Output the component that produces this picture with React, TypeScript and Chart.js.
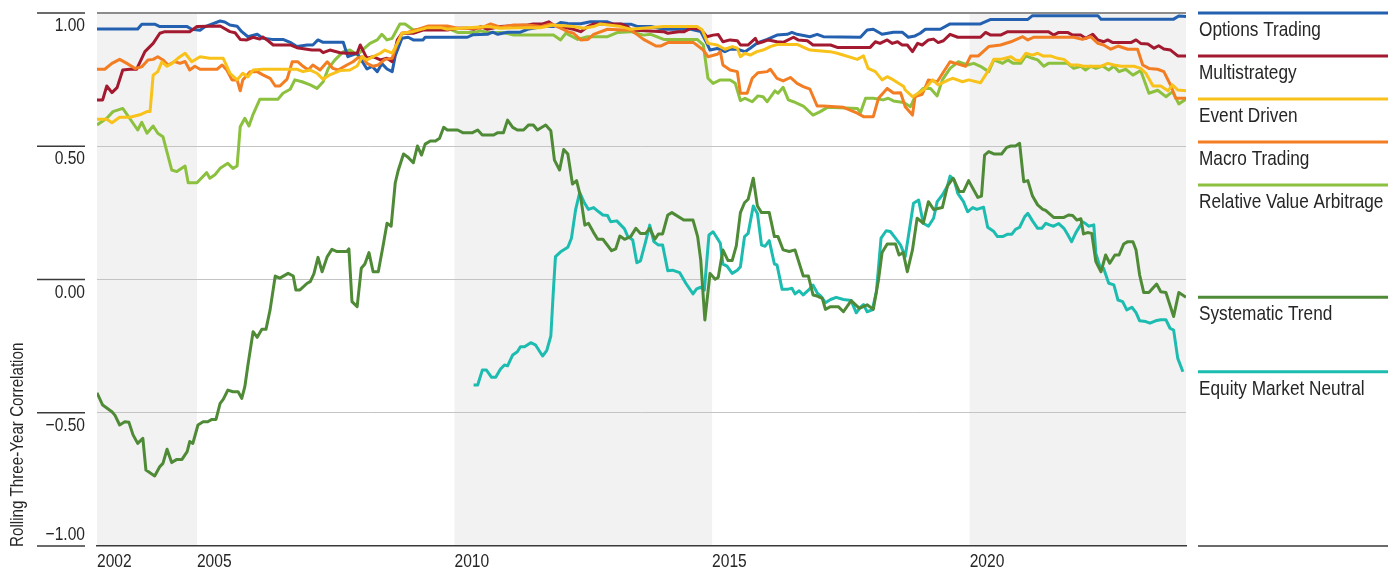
import React, { useEffect, useRef } from "react";
import { Chart, registerables } from "chart.js";

Chart.register(...registerables);

const FONT = "'Liberation Sans', Arimo, Arial, sans-serif";
const CONDENSE = 0.82;

// ---------- data (decimal year, rolling three-year correlation) ----------
const optionsTrading: [number, number][] = [
  [2003.06, 0.94], [2003.85, 0.94], [2003.93, 0.958], [2004.18, 0.958], [2004.28, 0.949], [2004.81, 0.949],
  [2004.9, 0.939], [2005.06, 0.935], [2005.16, 0.949], [2005.45, 0.97], [2005.54, 0.966], [2005.64, 0.955],
  [2005.78, 0.95], [2005.87, 0.93], [2005.99, 0.911], [2006.17, 0.92], [2006.28, 0.905], [2006.46, 0.901],
  [2006.67, 0.901], [2006.81, 0.89], [2006.94, 0.874], [2007.14, 0.88], [2007.25, 0.88], [2007.35, 0.899],
  [2007.45, 0.89], [2007.84, 0.89], [2007.93, 0.836], [2008.11, 0.849], [2008.17, 0.83], [2008.3, 0.79],
  [2008.4, 0.8], [2008.5, 0.78], [2008.59, 0.81], [2008.69, 0.79], [2008.79, 0.78], [2008.85, 0.84],
  [2008.98, 0.905], [2009.1, 0.909], [2009.2, 0.899], [2009.39, 0.899], [2009.43, 0.909], [2010.25, 0.909],
  [2010.35, 0.918], [2010.64, 0.92], [2010.74, 0.928], [2010.84, 0.92], [2011.03, 0.928], [2011.28, 0.928],
  [2011.42, 0.939], [2011.71, 0.949], [2011.92, 0.949], [2012.06, 0.964], [2012.2, 0.961], [2012.45, 0.96],
  [2012.64, 0.967], [2012.97, 0.967], [2013.09, 0.958], [2013.42, 0.958], [2013.56, 0.949], [2013.81, 0.949],
  [2014.06, 0.939], [2014.59, 0.939], [2014.78, 0.93], [2014.9, 0.886], [2014.96, 0.861], [2015.1, 0.867],
  [2015.25, 0.855], [2015.35, 0.864], [2015.49, 0.864], [2015.64, 0.855], [2015.74, 0.868], [2015.89, 0.889],
  [2016.07, 0.901], [2016.26, 0.917], [2016.46, 0.92], [2016.55, 0.927], [2016.65, 0.92], [2016.9, 0.911],
  [2017.04, 0.92], [2017.16, 0.911], [2017.88, 0.909], [2018.01, 0.936], [2018.13, 0.939], [2018.3, 0.92],
  [2018.52, 0.928], [2018.69, 0.928], [2018.81, 0.909], [2018.94, 0.914], [2019.04, 0.924], [2019.14, 0.939],
  [2019.43, 0.939], [2019.62, 0.959], [2020.21, 0.959], [2020.41, 0.976], [2021.13, 0.976], [2021.22, 0.99],
  [2022.49, 0.99], [2022.55, 0.977], [2023.96, 0.977], [2024.06, 0.989], [2024.2, 0.987],
];

const multistrategy: [number, number][] = [
  [2003.06, 0.674], [2003.17, 0.674], [2003.25, 0.726], [2003.35, 0.701], [2003.45, 0.72], [2003.56, 0.786],
  [2003.7, 0.789], [2003.83, 0.789], [2003.99, 0.855], [2004.15, 0.886], [2004.28, 0.924], [2004.38, 0.93],
  [2004.86, 0.93], [2005.0, 0.949], [2005.45, 0.951], [2005.64, 0.93], [2005.74, 0.926], [2005.84, 0.901],
  [2005.97, 0.899], [2006.09, 0.909], [2006.22, 0.902], [2006.28, 0.91], [2006.36, 0.899], [2006.48, 0.88],
  [2006.81, 0.88], [2006.94, 0.87], [2007.23, 0.861], [2007.39, 0.861], [2007.45, 0.851], [2007.58, 0.861],
  [2007.78, 0.851], [2007.91, 0.849], [2008.11, 0.849], [2008.17, 0.88], [2008.3, 0.83], [2008.42, 0.836],
  [2008.56, 0.824], [2008.69, 0.83], [2008.79, 0.817], [2008.89, 0.899], [2008.98, 0.924], [2009.2, 0.924],
  [2009.39, 0.936], [2009.86, 0.936], [2010.06, 0.943], [2010.25, 0.943], [2010.37, 0.939], [2010.51, 0.949],
  [2010.64, 0.939], [2010.89, 0.949], [2011.42, 0.955], [2011.53, 0.959], [2011.71, 0.959], [2011.83, 0.967],
  [2011.92, 0.955], [2012.06, 0.949], [2012.31, 0.939], [2012.45, 0.93], [2012.59, 0.949], [2012.7, 0.959],
  [2013.23, 0.959], [2013.36, 0.949], [2013.42, 0.936], [2014.06, 0.93], [2014.14, 0.924], [2014.35, 0.93],
  [2014.46, 0.93], [2014.59, 0.943], [2014.78, 0.939], [2014.9, 0.911], [2015.02, 0.917], [2015.12, 0.919],
  [2015.21, 0.892], [2015.35, 0.899], [2015.49, 0.896], [2015.55, 0.88], [2015.7, 0.88], [2015.84, 0.905],
  [2015.89, 0.886], [2015.99, 0.892], [2016.09, 0.899], [2016.26, 0.892], [2016.38, 0.89], [2016.58, 0.909],
  [2016.67, 0.899], [2016.85, 0.896], [2016.96, 0.88], [2017.3, 0.88], [2017.43, 0.871], [2018.07, 0.871],
  [2018.17, 0.892], [2018.26, 0.886], [2018.4, 0.899], [2018.5, 0.886], [2018.6, 0.892], [2018.69, 0.88],
  [2018.79, 0.88], [2018.89, 0.855], [2018.99, 0.886], [2019.08, 0.88], [2019.2, 0.899], [2019.3, 0.902],
  [2019.39, 0.889], [2019.49, 0.896], [2019.62, 0.92], [2019.77, 0.909], [2020.21, 0.909], [2020.31, 0.927],
  [2020.41, 0.917], [2020.6, 0.917], [2020.74, 0.93], [2021.53, 0.93], [2021.63, 0.917], [2021.73, 0.927],
  [2021.9, 0.927], [2022.0, 0.917], [2022.16, 0.917], [2022.25, 0.905], [2022.39, 0.92], [2022.49, 0.899],
  [2022.6, 0.892], [2022.68, 0.899], [2022.78, 0.889], [2023.13, 0.889], [2023.23, 0.899], [2023.32, 0.886],
  [2023.46, 0.884], [2023.58, 0.868], [2023.67, 0.877], [2023.77, 0.865], [2023.9, 0.861], [2024.04, 0.839],
  [2024.2, 0.839],
];

const eventDriven: [number, number][] = [
  [2003.06, 0.601], [2003.25, 0.601], [2003.35, 0.588], [2003.5, 0.609], [2003.7, 0.609], [2003.89, 0.618],
  [2004.03, 0.63], [2004.09, 0.63], [2004.15, 0.767], [2004.24, 0.78], [2004.32, 0.817], [2004.42, 0.8],
  [2004.51, 0.81], [2004.63, 0.83], [2004.77, 0.849], [2004.9, 0.817], [2005.06, 0.836], [2005.25, 0.83],
  [2005.51, 0.83], [2005.64, 0.774], [2005.78, 0.749], [2005.89, 0.774], [2005.99, 0.76], [2006.09, 0.786],
  [2006.28, 0.789], [2006.94, 0.789], [2007.06, 0.78], [2007.2, 0.786], [2007.33, 0.774], [2007.45, 0.751],
  [2007.58, 0.768], [2007.78, 0.784], [2007.97, 0.786], [2008.11, 0.801], [2008.21, 0.836], [2008.3, 0.824],
  [2008.42, 0.836], [2008.56, 0.849], [2008.65, 0.861], [2008.79, 0.849], [2008.89, 0.886], [2008.98, 0.924],
  [2009.2, 0.93], [2009.48, 0.945], [2009.73, 0.945], [2009.86, 0.939], [2010.12, 0.943], [2010.64, 0.949],
  [2010.89, 0.943], [2011.22, 0.945], [2011.67, 0.945], [2011.92, 0.955], [2012.31, 0.949], [2012.51, 0.943],
  [2012.7, 0.949], [2012.83, 0.959], [2013.23, 0.949], [2013.42, 0.939], [2014.06, 0.949], [2014.71, 0.949],
  [2014.81, 0.936], [2014.92, 0.886], [2015.1, 0.88], [2015.25, 0.864], [2015.39, 0.874], [2015.49, 0.868],
  [2015.55, 0.836], [2015.64, 0.849], [2015.74, 0.842], [2015.87, 0.855], [2015.99, 0.861], [2016.13, 0.874],
  [2016.26, 0.882], [2016.65, 0.882], [2016.9, 0.861], [2017.29, 0.855], [2017.43, 0.849], [2017.82, 0.826],
  [2017.94, 0.839], [2018.03, 0.792], [2018.17, 0.78], [2018.3, 0.749], [2018.4, 0.761], [2018.52, 0.749],
  [2018.72, 0.724], [2018.75, 0.711], [2018.89, 0.686], [2019.01, 0.7], [2019.14, 0.717], [2019.28, 0.749],
  [2019.39, 0.73], [2019.59, 0.749], [2019.68, 0.755], [2019.86, 0.742], [2019.98, 0.749], [2020.21, 0.738],
  [2020.35, 0.78], [2020.47, 0.826], [2020.6, 0.826], [2020.8, 0.836], [2020.89, 0.824], [2020.99, 0.821],
  [2021.09, 0.849], [2021.22, 0.842], [2021.32, 0.849], [2021.42, 0.839], [2021.57, 0.839], [2021.71, 0.83],
  [2021.83, 0.826], [2021.96, 0.805], [2022.1, 0.805], [2022.21, 0.8], [2022.55, 0.8], [2022.68, 0.811],
  [2022.8, 0.805], [2022.94, 0.8], [2023.19, 0.8], [2023.32, 0.792], [2023.42, 0.774], [2023.56, 0.726],
  [2023.71, 0.726], [2023.85, 0.708], [2023.94, 0.73], [2024.04, 0.711], [2024.2, 0.708],
];

const macroTrading: [number, number][] = [
  [2003.06, 0.789], [2003.21, 0.789], [2003.35, 0.811], [2003.5, 0.826], [2003.64, 0.811], [2003.8, 0.792],
  [2003.93, 0.798], [2004.05, 0.824], [2004.15, 0.826], [2004.24, 0.836], [2004.34, 0.824], [2004.44, 0.805],
  [2004.57, 0.818], [2004.67, 0.811], [2004.77, 0.818], [2004.86, 0.786], [2004.96, 0.8], [2005.06, 0.789],
  [2005.39, 0.789], [2005.49, 0.805], [2005.58, 0.786], [2005.68, 0.749], [2005.78, 0.749], [2005.84, 0.708],
  [2005.89, 0.749], [2006.03, 0.78], [2006.17, 0.78], [2006.28, 0.768], [2006.42, 0.755], [2006.52, 0.726],
  [2006.61, 0.726], [2006.75, 0.752], [2006.85, 0.817], [2006.96, 0.817], [2007.06, 0.8], [2007.16, 0.786],
  [2007.25, 0.805], [2007.39, 0.786], [2007.53, 0.817], [2007.64, 0.792], [2007.74, 0.786], [2007.91, 0.805],
  [2008.03, 0.817], [2008.11, 0.83], [2008.21, 0.836], [2008.3, 0.811], [2008.42, 0.8], [2008.52, 0.805],
  [2008.65, 0.826], [2008.79, 0.83], [2008.89, 0.886], [2008.98, 0.924], [2009.1, 0.928], [2009.24, 0.936],
  [2009.48, 0.951], [2009.86, 0.951], [2010.06, 0.943], [2010.51, 0.943], [2010.7, 0.959], [2010.89, 0.947],
  [2011.15, 0.955], [2011.42, 0.955], [2011.67, 0.949], [2011.87, 0.959], [2012.06, 0.943], [2012.2, 0.93],
  [2012.31, 0.924], [2012.45, 0.899], [2012.59, 0.901], [2012.7, 0.92], [2012.97, 0.939], [2013.28, 0.936],
  [2013.42, 0.936], [2013.56, 0.917], [2013.67, 0.901], [2013.91, 0.876], [2014.0, 0.876], [2014.14, 0.889],
  [2014.64, 0.889], [2014.83, 0.861], [2014.92, 0.836], [2015.1, 0.845], [2015.16, 0.855], [2015.21, 0.805],
  [2015.35, 0.786], [2015.49, 0.78], [2015.55, 0.699], [2015.68, 0.699], [2015.78, 0.755], [2015.89, 0.776],
  [2016.07, 0.78], [2016.13, 0.789], [2016.26, 0.755], [2016.38, 0.745], [2016.52, 0.758], [2016.65, 0.736],
  [2016.77, 0.724], [2016.9, 0.714], [2017.04, 0.651], [2017.16, 0.651], [2017.55, 0.646], [2017.82, 0.624],
  [2017.94, 0.611], [2018.13, 0.611], [2018.23, 0.68], [2018.4, 0.717], [2018.52, 0.7], [2018.66, 0.701],
  [2018.75, 0.648], [2018.89, 0.617], [2018.94, 0.686], [2019.08, 0.695], [2019.2, 0.749], [2019.37, 0.742],
  [2019.62, 0.817], [2019.78, 0.808], [2019.92, 0.8], [2020.02, 0.839], [2020.17, 0.839], [2020.37, 0.874],
  [2020.6, 0.88], [2020.8, 0.892], [2021.03, 0.911], [2021.13, 0.899], [2021.24, 0.909], [2022.02, 0.909],
  [2022.19, 0.901], [2022.35, 0.911], [2022.49, 0.886], [2022.6, 0.88], [2022.74, 0.864], [2022.88, 0.876],
  [2023.07, 0.864], [2023.26, 0.864], [2023.36, 0.805], [2023.48, 0.792], [2023.65, 0.789], [2023.77, 0.78],
  [2023.9, 0.73], [2024.0, 0.68], [2024.2, 0.68],
];

const relativeValueArbitrage: [number, number][] = [
  [2003.06, 0.58], [2003.25, 0.605], [2003.37, 0.63], [2003.56, 0.642], [2003.74, 0.592], [2003.85, 0.561],
  [2003.93, 0.59], [2004.03, 0.549], [2004.15, 0.576], [2004.24, 0.549], [2004.34, 0.536], [2004.51, 0.411],
  [2004.61, 0.405], [2004.77, 0.426], [2004.83, 0.363], [2005.0, 0.363], [2005.19, 0.401], [2005.25, 0.38],
  [2005.35, 0.393], [2005.45, 0.417], [2005.6, 0.436], [2005.7, 0.417], [2005.78, 0.426], [2005.84, 0.573],
  [2005.93, 0.605], [2006.01, 0.576], [2006.09, 0.62], [2006.22, 0.676], [2006.57, 0.676], [2006.67, 0.699],
  [2006.81, 0.714], [2006.9, 0.749], [2007.04, 0.742], [2007.2, 0.73], [2007.33, 0.717], [2007.45, 0.742],
  [2007.55, 0.792], [2007.68, 0.824], [2007.84, 0.855], [2007.97, 0.861], [2008.11, 0.843], [2008.21, 0.861],
  [2008.36, 0.886], [2008.5, 0.899], [2008.59, 0.92], [2008.69, 0.899], [2008.79, 0.905], [2008.94, 0.959],
  [2009.04, 0.959], [2009.2, 0.936], [2009.48, 0.943], [2009.86, 0.943], [2010.06, 0.927], [2010.37, 0.927],
  [2010.51, 0.933], [2010.64, 0.927], [2010.95, 0.927], [2011.15, 0.917], [2011.92, 0.917], [2012.06, 0.899],
  [2012.16, 0.924], [2012.39, 0.901], [2012.58, 0.911], [2012.97, 0.911], [2013.17, 0.927], [2013.42, 0.93],
  [2013.67, 0.917], [2013.81, 0.92], [2014.06, 0.901], [2014.71, 0.901], [2014.83, 0.88], [2014.92, 0.755],
  [2015.02, 0.736], [2015.16, 0.749], [2015.35, 0.749], [2015.45, 0.736], [2015.55, 0.671], [2015.64, 0.68],
  [2015.78, 0.667], [2015.89, 0.689], [2015.99, 0.686], [2016.07, 0.667], [2016.22, 0.708], [2016.28, 0.699],
  [2016.38, 0.721], [2016.48, 0.674], [2016.58, 0.667], [2016.77, 0.651], [2016.96, 0.617], [2017.1, 0.63],
  [2017.24, 0.646], [2017.82, 0.642], [2017.88, 0.626], [2017.98, 0.68], [2018.13, 0.68], [2018.32, 0.674],
  [2018.42, 0.68], [2018.52, 0.67], [2018.72, 0.664], [2018.85, 0.648], [2018.94, 0.686], [2019.1, 0.717],
  [2019.24, 0.717], [2019.37, 0.689], [2019.47, 0.749], [2019.62, 0.792], [2019.78, 0.817], [2019.96, 0.805],
  [2020.08, 0.811], [2020.21, 0.8], [2020.37, 0.78], [2020.47, 0.824], [2020.64, 0.811], [2020.74, 0.824],
  [2020.85, 0.811], [2020.99, 0.811], [2021.09, 0.839], [2021.22, 0.83], [2021.32, 0.824], [2021.44, 0.8],
  [2021.53, 0.811], [2021.9, 0.811], [2022.02, 0.792], [2022.16, 0.8], [2022.25, 0.786], [2022.35, 0.8],
  [2022.45, 0.792], [2022.58, 0.801], [2022.7, 0.786], [2022.8, 0.8], [2022.9, 0.78], [2023.03, 0.789],
  [2023.17, 0.767], [2023.32, 0.784], [2023.48, 0.699], [2023.65, 0.71], [2023.81, 0.686], [2023.94, 0.705],
  [2024.06, 0.659], [2024.2, 0.676],
];

const systematicTrend: [number, number][] = [
  [2003.06, -0.425], [2003.17, -0.471], [2003.35, -0.496], [2003.41, -0.51], [2003.5, -0.546], [2003.6, -0.534],
  [2003.68, -0.536], [2003.76, -0.583], [2003.85, -0.615], [2003.95, -0.596], [2004.01, -0.715], [2004.18, -0.737],
  [2004.28, -0.702], [2004.34, -0.69], [2004.42, -0.637], [2004.51, -0.687], [2004.61, -0.675], [2004.71, -0.675],
  [2004.81, -0.646], [2004.86, -0.608], [2004.92, -0.615], [2005.02, -0.546], [2005.12, -0.534], [2005.21, -0.534],
  [2005.29, -0.525], [2005.37, -0.525], [2005.45, -0.465], [2005.51, -0.45], [2005.6, -0.415], [2005.7, -0.421],
  [2005.8, -0.421], [2005.87, -0.446], [2005.93, -0.402], [2005.99, -0.321], [2006.09, -0.196], [2006.17, -0.217],
  [2006.26, -0.187], [2006.34, -0.187], [2006.42, -0.114], [2006.52, 0.013], [2006.61, 0.005], [2006.77, 0.023],
  [2006.87, 0.013], [2006.92, -0.039], [2007.0, -0.039], [2007.14, -0.014], [2007.2, -0.008], [2007.27, 0.021],
  [2007.35, 0.083], [2007.43, 0.029], [2007.53, 0.086], [2007.62, 0.113], [2007.72, 0.105], [2007.91, 0.105],
  [2007.95, 0.115], [2008.01, -0.083], [2008.11, -0.102], [2008.19, 0.042], [2008.26, 0.058], [2008.34, 0.101],
  [2008.42, 0.029], [2008.52, 0.029], [2008.61, 0.123], [2008.69, 0.211], [2008.77, 0.2], [2008.85, 0.363],
  [2008.91, 0.411], [2009.01, 0.471], [2009.09, 0.46], [2009.2, 0.438], [2009.28, 0.501], [2009.36, 0.467],
  [2009.43, 0.508], [2009.53, 0.52], [2009.63, 0.52], [2009.71, 0.53], [2009.79, 0.571], [2009.86, 0.561],
  [2010.06, 0.561], [2010.16, 0.551], [2010.35, 0.551], [2010.45, 0.561], [2010.54, 0.542], [2010.76, 0.542],
  [2010.84, 0.551], [2010.95, 0.551], [2011.03, 0.598], [2011.13, 0.571], [2011.22, 0.561], [2011.34, 0.561],
  [2011.44, 0.58], [2011.53, 0.58], [2011.61, 0.561], [2011.77, 0.58], [2011.87, 0.558], [2011.94, 0.448],
  [2012.04, 0.411], [2012.12, 0.488], [2012.2, 0.471], [2012.29, 0.358], [2012.37, 0.371], [2012.45, 0.308],
  [2012.53, 0.204], [2012.6, 0.211], [2012.7, 0.176], [2012.78, 0.151], [2012.88, 0.151], [2013.05, 0.108],
  [2013.13, 0.115], [2013.21, 0.163], [2013.3, 0.151], [2013.42, 0.161], [2013.52, 0.192], [2013.61, 0.173],
  [2013.71, 0.173], [2013.79, 0.192], [2013.89, 0.151], [2013.96, 0.171], [2014.04, 0.171], [2014.14, 0.242],
  [2014.22, 0.251], [2014.45, 0.223], [2014.63, 0.223], [2014.72, 0.161], [2014.78, 0.073], [2014.86, -0.152],
  [2014.96, 0.023], [2015.06, 0.001], [2015.12, 0.008], [2015.21, 0.111], [2015.31, 0.071], [2015.39, 0.071],
  [2015.47, 0.126], [2015.55, 0.251], [2015.63, 0.288], [2015.7, 0.301], [2015.8, 0.38], [2015.88, 0.276],
  [2015.96, 0.251], [2016.11, 0.251], [2016.21, 0.161], [2016.28, 0.161], [2016.38, 0.111], [2016.5, 0.105],
  [2016.61, 0.111], [2016.77, 0.013], [2016.87, 0.013], [2016.96, -0.058], [2017.04, -0.062], [2017.14, -0.071],
  [2017.2, -0.112], [2017.3, -0.102], [2017.45, -0.102], [2017.55, -0.121], [2017.7, -0.079], [2017.86, -0.108],
  [2018.01, -0.095], [2018.13, -0.112], [2018.23, -0.002], [2018.3, 0.101], [2018.4, 0.133], [2018.56, 0.133],
  [2018.63, 0.092], [2018.71, 0.101], [2018.79, 0.029], [2018.89, 0.111], [2018.98, 0.23], [2019.1, 0.211],
  [2019.2, 0.292], [2019.3, 0.263], [2019.47, 0.27], [2019.57, 0.351], [2019.68, 0.38], [2019.8, 0.33],
  [2019.88, 0.33], [2019.98, 0.371], [2020.16, 0.308], [2020.23, 0.313], [2020.29, 0.467], [2020.37, 0.48],
  [2020.47, 0.471], [2020.62, 0.471], [2020.72, 0.496], [2020.8, 0.501], [2020.89, 0.501], [2020.97, 0.511],
  [2021.05, 0.367], [2021.13, 0.371], [2021.22, 0.313], [2021.32, 0.28], [2021.42, 0.263], [2021.47, 0.26],
  [2021.63, 0.233], [2021.83, 0.233], [2021.92, 0.242], [2022.0, 0.24], [2022.08, 0.223], [2022.16, 0.228],
  [2022.21, 0.171], [2022.29, 0.176], [2022.37, 0.173], [2022.45, 0.067], [2022.55, 0.029], [2022.64, 0.092],
  [2022.72, 0.061], [2022.82, 0.092], [2022.9, 0.092], [2022.99, 0.133], [2023.07, 0.142], [2023.17, 0.142],
  [2023.23, 0.111], [2023.3, 0.017], [2023.38, -0.049], [2023.48, -0.049], [2023.63, -0.017], [2023.71, -0.046],
  [2023.81, -0.049], [2023.96, -0.139], [2024.06, -0.049], [2024.2, -0.067],
];

const equityMarketNeutral: [number, number][] = [
  [2010.37, -0.396], [2010.45, -0.396], [2010.54, -0.34], [2010.62, -0.34], [2010.72, -0.367], [2010.8, -0.367],
  [2010.89, -0.337], [2010.97, -0.321], [2011.03, -0.324], [2011.13, -0.283], [2011.22, -0.271], [2011.28, -0.252],
  [2011.36, -0.252], [2011.48, -0.237], [2011.57, -0.245], [2011.71, -0.287], [2011.79, -0.267], [2011.87, -0.212],
  [2011.92, -0.039], [2011.96, 0.086], [2012.06, 0.104], [2012.2, 0.121], [2012.27, 0.155], [2012.35, 0.261],
  [2012.43, 0.326], [2012.51, 0.292], [2012.6, 0.263], [2012.7, 0.27], [2012.8, 0.254], [2012.88, 0.242],
  [2012.97, 0.24], [2013.03, 0.217], [2013.15, 0.22], [2013.23, 0.204], [2013.3, 0.19], [2013.36, 0.163],
  [2013.46, 0.148], [2013.54, 0.063], [2013.61, 0.07], [2013.71, 0.142], [2013.79, 0.204], [2013.87, 0.142],
  [2013.96, 0.129], [2014.04, 0.129], [2014.14, 0.033], [2014.23, 0.035], [2014.37, 0.026], [2014.49, -0.014],
  [2014.63, -0.054], [2014.7, -0.035], [2014.78, -0.029], [2014.85, -0.04], [2014.94, 0.167], [2015.02, 0.179],
  [2015.1, 0.155], [2015.16, 0.136], [2015.21, 0.058], [2015.29, 0.05], [2015.39, 0.023], [2015.49, 0.035],
  [2015.55, 0.048], [2015.63, 0.161], [2015.7, 0.173], [2015.8, 0.276], [2015.88, 0.248], [2015.96, 0.129],
  [2016.03, 0.125], [2016.11, 0.146], [2016.21, 0.058], [2016.26, 0.055], [2016.36, -0.037], [2016.46, -0.037],
  [2016.55, -0.033], [2016.61, -0.054], [2016.69, -0.042], [2016.77, -0.058], [2016.87, -0.04], [2016.96, -0.021],
  [2017.04, -0.05], [2017.12, -0.064], [2017.2, -0.087], [2017.3, -0.075], [2017.41, -0.067], [2017.55, -0.075],
  [2017.7, -0.079], [2017.8, -0.125], [2017.88, -0.104], [2017.94, -0.094], [2018.01, -0.121], [2018.11, -0.114],
  [2018.19, -0.046], [2018.28, 0.155], [2018.38, 0.183], [2018.46, 0.18], [2018.56, 0.155], [2018.66, 0.129],
  [2018.75, 0.086], [2018.91, 0.286], [2019.01, 0.298], [2019.1, 0.211], [2019.2, 0.2], [2019.3, 0.23],
  [2019.37, 0.292], [2019.47, 0.317], [2019.57, 0.351], [2019.62, 0.388], [2019.7, 0.373], [2019.77, 0.323],
  [2019.88, 0.292], [2019.96, 0.254], [2020.06, 0.27], [2020.14, 0.263], [2020.27, 0.271], [2020.35, 0.196],
  [2020.47, 0.18], [2020.54, 0.161], [2020.64, 0.161], [2020.74, 0.17], [2020.82, 0.17], [2020.89, 0.188],
  [2020.97, 0.196], [2021.07, 0.236], [2021.13, 0.248], [2021.22, 0.22], [2021.32, 0.192], [2021.4, 0.192],
  [2021.48, 0.211], [2021.55, 0.205], [2021.63, 0.2], [2021.73, 0.21], [2021.83, 0.192], [2021.9, 0.17],
  [2021.98, 0.142], [2022.06, 0.175], [2022.19, 0.217], [2022.25, 0.21], [2022.31, 0.2], [2022.41, 0.205],
  [2022.45, 0.098], [2022.53, 0.048], [2022.6, 0.042], [2022.7, -0.014], [2022.8, -0.02], [2022.88, -0.077],
  [2022.97, -0.083], [2023.05, -0.114], [2023.15, -0.104], [2023.23, -0.124], [2023.3, -0.155], [2023.42, -0.158],
  [2023.5, -0.164], [2023.61, -0.155], [2023.71, -0.151], [2023.81, -0.151], [2023.89, -0.183], [2023.96, -0.19],
  [2024.04, -0.296], [2024.14, -0.346],
];

// legend order (top to bottom on the right side)
const seriesNames = [
  "Options Trading",
  "Multistrategy",
  "Event Driven",
  "Macro Trading",
  "Relative Value Arbitrage",
  "Systematic Trend",
  "Equity Market Neutral",
];
const seriesData = [
  optionsTrading,
  multistrategy,
  eventDriven,
  macroTrading,
  relativeValueArbitrage,
  systematicTrend,
  equityMarketNeutral,
];
const seriesColors = ["#2460b0", "#a3192f", "#f8c21a", "#f37d22", "#8cc13f", "#4f8a37", "#1cbcb0"];
// lower number = drawn on top
const seriesDrawOrder = [3, 2, 0, 1, 4, 5, 6];

const yTickValues = [1, 0.5, 0, -0.5, -1];
const yTickLabels = ["1.00", "0.50", "0.00", "\u22120.50", "\u22121.00"];
const X_MIN = 2003.06;
const X_MAX = 2024.2;
const xTickValues = [X_MIN, 2005, 2010, 2015, 2020];
const xTickLabels = ["2002", "2005", "2010", "2015", "2020"];
const shadedRanges: [number, number][] = [
  [X_MIN, 2005],
  [2010, 2015],
  [2020, X_MAX],
];
const yAxisTitle = "Rolling Three-Year Correlation";

const TEXT = "#262626";

function condensedText(
  ctx: CanvasRenderingContext2D,
  text: string,
  x: number,
  y: number,
  size: number,
  align: CanvasTextAlign,
  rotate = 0
) {
  ctx.save();
  ctx.translate(x, y);
  if (rotate) ctx.rotate(rotate);
  ctx.scale(CONDENSE, 1);
  ctx.font = `${size}px ${FONT}`;
  ctx.textAlign = align;
  ctx.textBaseline = "middle";
  ctx.fillStyle = TEXT;
  ctx.fillText(text, 0, 0);
  ctx.restore();
}

const shadePlugin = {
  id: "shadeBands",
  beforeDraw(chart: any) {
    const { ctx, chartArea, scales } = chart;
    const xs = scales.x;
    ctx.save();
    ctx.fillStyle = "#f2f2f2";
    for (const [a, b] of shadedRanges) {
      const x0 = xs.getPixelForValue(a);
      const x1 = xs.getPixelForValue(b);
      ctx.fillRect(x0, chartArea.top, x1 - x0, chartArea.bottom - chartArea.top);
    }
    ctx.restore();
  },
};

const decorPlugin = {
  id: "decor",
  afterDraw(chart: any) {
    const { ctx, chartArea, scales } = chart;
    const ys = scales.y;
    const xs = scales.x;
    ctx.save();
    // y tick marks and labels
    ctx.strokeStyle = "#3a3a3a";
    ctx.lineWidth = 1.5;
    yTickValues.forEach((v, i) => {
      const y = ys.getPixelForValue(v);
      ctx.beginPath();
      ctx.moveTo(37, y);
      ctx.lineTo(chartArea.left - 12, y);
      ctx.stroke();
      const ly = i === yTickValues.length - 1 ? y - 11 : y + 13;
      condensedText(ctx, yTickLabels[i], chartArea.left - 12, ly, 19, "right");
    });

    // x tick labels
    xTickValues.forEach((v, i) => {
      condensedText(ctx, xTickLabels[i], xs.getPixelForValue(v), chartArea.bottom + 16, 19, "left");
    });

    // y axis title
    condensedText(ctx, yAxisTitle, 18, chartArea.bottom + 1, 18.5, "left", -Math.PI / 2);

    // right-hand legend
    const lx0 = chartArea.right + 12;
    const lx1 = chartArea.right + 202;
    let prev = -Infinity;
    seriesNames.forEach((name, i) => {
      const data = seriesData[i];
      const endY = ys.getPixelForValue(data[data.length - 1][1]);
      const y = i === 0 ? chartArea.top : Math.max(endY, prev + 43);
      prev = y;
      ctx.strokeStyle = seriesColors[i];
      ctx.lineWidth = 3;
      ctx.beginPath();
      ctx.moveTo(lx0, y);
      ctx.lineTo(lx1, y);
      ctx.stroke();
      condensedText(ctx, name, lx0 + 1, y + 17, 21, "left");
    });
    ctx.strokeStyle = "#3a3a3a";
    ctx.lineWidth = 1.5;
    ctx.beginPath();
    ctx.moveTo(lx0, chartArea.bottom);
    ctx.lineTo(lx1, chartArea.bottom);
    ctx.stroke();
    ctx.restore();
  },
};

export default function App() {
  const canvasRef = useRef<HTMLCanvasElement | null>(null);

  useEffect(() => {
    const canvas = canvasRef.current;
    if (!canvas) return;
    const chart = new Chart(canvas, {
      type: "line",
      data: {
        datasets: seriesNames.map((name, i) => ({
          label: name,
          data: seriesData[i].map(([x, y]) => ({ x, y })),
          borderColor: seriesColors[i],
          backgroundColor: seriesColors[i],
          borderWidth: 3,
          pointRadius: 0,
          tension: 0,
          fill: false,
          order: seriesDrawOrder[i],
          borderJoinStyle: "round" as const,
        })),
      },
      options: {
        animation: false,
        responsive: false,
        maintainAspectRatio: false,
        events: [],
        layout: { padding: { top: 13, right: 212, left: 0, bottom: 0 } },
        plugins: { legend: { display: false }, tooltip: { enabled: false } },
        scales: {
          x: {
            type: "linear",
            min: X_MIN,
            max: X_MAX,
            afterBuildTicks: (s: any) => {
              s.ticks = xTickValues.map((v) => ({ value: v }));
            },
            afterFit: (s: any) => {
              s.height = 28;
            },
            ticks: { display: false },
            grid: { display: false, drawTicks: false },
            border: { display: true, color: "#3a3a3a", width: 1.5 },
          },
          y: {
            type: "linear",
            min: -1,
            max: 1,
            afterBuildTicks: (s: any) => {
              s.ticks = yTickValues.map((v) => ({ value: v }));
            },
            afterFit: (s: any) => {
              s.width = 97;
            },
            ticks: { display: false },
            grid: {
              drawTicks: false,
              color: (c: any) =>
                c.tick && c.tick.value === 1 ? "#8c8c8c" : c.tick && c.tick.value === -1 ? "rgba(0,0,0,0)" : "#c4c4c4",
              lineWidth: (c: any) => (c.tick && c.tick.value === 1 ? 2 : 1),
            },
            border: { display: false },
            title: { display: false },
          },
        },
      },
      plugins: [shadePlugin, decorPlugin],
    });
    return () => chart.destroy();
  }, []);

  return (
    <div style={{ position: "absolute", left: 0, top: 0, width: 1398, height: 574, background: "#fff" }}>
      <canvas ref={canvasRef} width={1398} height={574} style={{ display: "block" }} />
    </div>
  );
}
